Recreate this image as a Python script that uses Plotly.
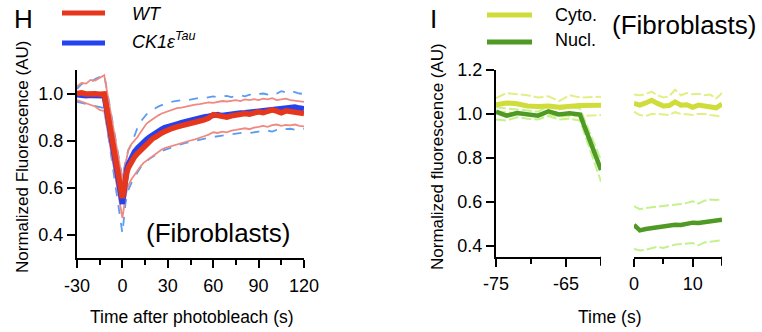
import plotly.graph_objects as go

# ---------------- Panel H data ----------------
T_H = [-30, -27, -24, -21, -18, -15, -12,
       0, 1, 2, 3, 4,
       6, 8, 10, 12, 14, 16, 18, 20, 22, 24, 26, 28, 30,
       33, 36, 39, 42, 45, 48, 51, 54, 57, 60, 63, 66, 69, 72, 75,
       78, 81, 84, 87, 90, 93, 96, 99, 102, 105, 108, 111, 114, 117, 120]

WT_MEAN = [1.000, 1.003, 0.998, 1.001, 0.999, 0.997, 0.998,
           0.555, 0.600, 0.635, 0.665, 0.685,
           0.710, 0.730, 0.745, 0.758, 0.772, 0.788, 0.798, 0.808, 0.815, 0.826, 0.832, 0.838, 0.845,
           0.852, 0.858, 0.862, 0.868, 0.872, 0.876, 0.883, 0.888, 0.895, 0.910, 0.905, 0.898, 0.899, 0.905, 0.908,
           0.910, 0.915, 0.912, 0.920, 0.922, 0.918, 0.926, 0.930, 0.925, 0.918, 0.926, 0.924, 0.920, 0.922, 0.915]

CK_MEAN = [0.995, 0.992, 0.990, 0.992, 0.990, 0.988, 0.990,
           0.530, 0.600, 0.645, 0.680, 0.700,
           0.730, 0.752, 0.768, 0.782, 0.795, 0.805, 0.815, 0.825, 0.832, 0.840, 0.848, 0.855, 0.860,
           0.865, 0.870, 0.876, 0.882, 0.886, 0.890, 0.895, 0.900, 0.903, 0.908, 0.910, 0.906, 0.910, 0.912, 0.915,
           0.917, 0.918, 0.920, 0.922, 0.925, 0.926, 0.928, 0.932, 0.930, 0.934, 0.936, 0.940, 0.942, 0.938, 0.935]

WT_HI = [1.030, 1.045, 1.042, 1.058, 1.055, 1.068, 1.078,
         0.630, 0.670, 0.700, 0.730, 0.760,
         0.785, 0.800, 0.815, 0.835, 0.855, 0.872, 0.882, 0.892, 0.900, 0.908, 0.915, 0.920, 0.926,
         0.932, 0.938, 0.940, 0.945, 0.948, 0.953, 0.955, 0.958, 0.962, 0.960, 0.965, 0.968, 0.966, 0.970, 0.972,
         0.968, 0.975, 0.972, 0.976, 0.972, 0.978, 0.975, 0.980, 0.972, 0.976, 0.978, 0.972, 0.970, 0.966, 0.964]

WT_LO = [0.972, 0.965, 0.958, 0.950, 0.945, 0.930, 0.925,
         0.470, 0.520, 0.560, 0.590, 0.610,
         0.635, 0.655, 0.675, 0.690, 0.705, 0.715, 0.725, 0.735, 0.745, 0.755, 0.762, 0.768, 0.772,
         0.778, 0.785, 0.790, 0.795, 0.800, 0.805, 0.810, 0.818, 0.825, 0.835, 0.832, 0.838, 0.835, 0.842, 0.845,
         0.848, 0.852, 0.848, 0.855, 0.858, 0.862, 0.858, 0.865, 0.868, 0.862, 0.866, 0.864, 0.868, 0.862, 0.860]

CK_HI = [1.020, 1.040, 1.050, 1.048, 1.062, 1.070, 1.080,
         0.640, 0.680, 0.710, 0.740, 0.760,
         0.785, 0.820, 0.855, 0.880, 0.895, 0.912, 0.920, 0.930, 0.938, 0.945, 0.950, 0.958, 0.962,
         0.965, 0.968, 0.972, 0.970, 0.975, 0.978, 0.982, 0.980, 0.985, 0.988, 0.984, 0.986, 0.990, 0.985, 0.990,
         0.992, 0.988, 0.995, 0.990, 0.998, 1.000, 0.996, 1.005, 1.000, 1.010, 1.004, 1.012, 1.005, 1.000, 0.998]

CK_LO = [0.965, 0.960, 0.955, 0.952, 0.945, 0.940, 0.938,
         0.405, 0.480, 0.530, 0.565, 0.590,
         0.620, 0.645, 0.665, 0.685, 0.700, 0.712, 0.722, 0.730, 0.738, 0.748, 0.755, 0.760, 0.765,
         0.772, 0.778, 0.785, 0.790, 0.795, 0.800, 0.805, 0.808, 0.812, 0.815, 0.818, 0.820, 0.822, 0.826, 0.828,
         0.830, 0.835, 0.832, 0.836, 0.838, 0.840, 0.842, 0.838, 0.845, 0.842, 0.848, 0.850, 0.846, 0.852, 0.850]

H_XTICKS = [-30, 0, 30, 60, 90, 120]
H_XLABELS = ["-30", "0", "30", "60", "90", "120"]
H_XMINOR = [-15, 15, 45, 75, 105]
H_YTICKS = [0.4, 0.6, 0.8, 1.0]

# ---------------- Panel I data ----------------
T_I_PRE = [-75, -73.5, -72, -70.5, -69, -67.5, -66, -64.5, -63, -60]
CYT_PRE = [1.042, 1.050, 1.046, 1.036, 1.034, 1.036, 1.030, 1.036, 1.038, 1.040]
CYT_PRE_HI = [1.072, 1.095, 1.090, 1.085, 1.075, 1.080, 1.058, 1.085, 1.075, 1.078]
CYT_PRE_LO = [1.005, 1.010, 1.000, 0.995, 0.990, 0.995, 0.988, 0.990, 0.990, 0.995]
NUC_PRE = [1.010, 0.992, 1.004, 0.998, 0.992, 1.012, 0.998, 1.003, 0.997, 0.745]
NUC_PRE_HI = [1.030, 1.025, 1.020, 1.015, 1.010, 1.035, 1.020, 1.030, 1.025, 0.790]
NUC_PRE_LO = [0.975, 0.970, 0.985, 0.978, 0.975, 0.990, 0.975, 0.978, 0.970, 0.692]

T_I_POST = [0, 1, 2, 3, 4, 5, 6, 7, 8, 9, 10, 11, 12, 13, 14, 15]
CYT_POST = [1.048, 1.040, 1.050, 1.062, 1.048, 1.036, 1.038, 1.055, 1.040, 1.042, 1.030, 1.040, 1.036, 1.030, 1.028, 1.045]
CYT_POST_HI = [1.088, 1.085, 1.090, 1.102, 1.085, 1.075, 1.080, 1.110, 1.085, 1.095, 1.090, 1.092, 1.085, 1.088, 1.070, 1.095]
CYT_POST_LO = [1.010, 0.995, 0.990, 1.000, 1.000, 0.998, 0.995, 1.008, 1.000, 0.998, 0.995, 1.000, 1.000, 0.995, 0.992, 0.988]
NUC_POST = [0.495, 0.470, 0.476, 0.480, 0.486, 0.488, 0.490, 0.495, 0.494, 0.500, 0.505, 0.503, 0.508, 0.512, 0.513, 0.518]
NUC_POST_HI = [0.580, 0.566, 0.572, 0.575, 0.578, 0.580, 0.582, 0.585, 0.590, 0.595, 0.602, 0.592, 0.605, 0.610, 0.608, 0.612]
NUC_POST_LO = [0.385, 0.378, 0.382, 0.388, 0.395, 0.390, 0.398, 0.405, 0.408, 0.410, 0.412, 0.402, 0.415, 0.418, 0.420, 0.425]

I_YTICKS = [0.4, 0.6, 0.8, 1.0, 1.2]
I_PRE_TICKS = [-75, -65]
I_PRE_LABELS = ["-75", "-65"]
I_PRE_MINOR = [-70]
I_PRE_END = -60
I_POST_TICKS = [0, 10]
I_POST_LABELS = ["0", "10"]
I_POST_MINOR = [5]
I_POST_END = 15

# ---------------- Styling ----------------
W, H = 762, 332
FONT = "Liberation Sans, Arial, Helvetica, sans-serif"
RED, BLUE = "#e6361c", "#2442ee"
PINK, LBLUE = "#ee8a82", "#5b9cf3"
CYT, CYT_L = "#cfdc3a", "#e3ef86"
NUC, NUC_L = "#4f9a24", "#c3f28c"


def px(x):
    return x / W


def py(y):
    return 1 - y / H


fig = go.Figure()

# Panel H traces
for ys, col, dash in [(CK_HI, LBLUE, "dash"), (CK_LO, LBLUE, "dash"),
                      (WT_HI, PINK, "solid"), (WT_LO, PINK, "solid")]:
    fig.add_trace(go.Scatter(x=T_H, y=ys, mode="lines", showlegend=False,
                             line=dict(color=col, width=1.8, dash=dash),
                             xaxis="x", yaxis="y", hoverinfo="skip"))
fig.add_trace(go.Scatter(x=T_H, y=CK_MEAN, mode="lines", name="CK1ε Tau", showlegend=False,
                         line=dict(color=BLUE, width=5.5), xaxis="x", yaxis="y"))
fig.add_trace(go.Scatter(x=T_H, y=WT_MEAN, mode="lines", name="WT", showlegend=False,
                         line=dict(color=RED, width=5.5), xaxis="x", yaxis="y"))

# Panel I traces
for xs, xa, series in [
    (T_I_PRE, "x2", [(CYT_PRE_HI, CYT_L), (CYT_PRE_LO, CYT_L), (NUC_PRE_HI, NUC_L), (NUC_PRE_LO, NUC_L)]),
    (T_I_POST, "x3", [(CYT_POST_HI, CYT_L), (CYT_POST_LO, CYT_L), (NUC_POST_HI, NUC_L), (NUC_POST_LO, NUC_L)]),
]:
    for ys, col in series:
        fig.add_trace(go.Scatter(x=xs, y=ys, mode="lines", showlegend=False,
                                 line=dict(color=col, width=2, dash="10px,3px"),
                                 xaxis=xa, yaxis="y2", hoverinfo="skip"))
for xs, xa, cy, nu in [(T_I_PRE, "x2", CYT_PRE, NUC_PRE), (T_I_POST, "x3", CYT_POST, NUC_POST)]:
    fig.add_trace(go.Scatter(x=xs, y=cy, mode="lines", name="Cyto.", showlegend=False,
                             line=dict(color=CYT, width=5), xaxis=xa, yaxis="y2"))
    fig.add_trace(go.Scatter(x=xs, y=nu, mode="lines", name="Nucl.", showlegend=False,
                             line=dict(color=NUC, width=4.5), xaxis=xa, yaxis="y2"))

axis_common = dict(showline=True, linecolor="black", linewidth=2, ticks="outside",
                   ticklen=8, tickwidth=2, tickcolor="black", showgrid=False, zeroline=False,
                   automargin=False,
                   tickfont=dict(family=FONT, size=18, color="black"))


def minor(vals):
    return dict(tickmode="array", tickvals=vals, ticks="outside", ticklen=5,
                tickwidth=2, tickcolor="black", showgrid=False)


I_AXIS_Y = 256.7
fig.update_layout(
    width=W, height=H, margin=dict(l=0, r=0, t=0, b=0, autoexpand=False),
    paper_bgcolor="white", plot_bgcolor="white", showlegend=False,
    font=dict(family=FONT, color="black"),
    xaxis=dict(axis_common, domain=[px(77), px(304)], range=[-30, 120], anchor="y",
               tickmode="array", tickvals=H_XTICKS, ticktext=H_XLABELS, ticklabelstandoff=2,
               minor=minor(H_XMINOR)),
    yaxis=dict(axis_common, domain=[py(258), py(70)], range=[0.3, 1.1], anchor="x",
               tickmode="array", tickvals=H_YTICKS, tickformat=".1f"),
    xaxis2=dict(axis_common, domain=[px(496), px(601)], range=[-75, -60], anchor="y2",
                tickmode="array", tickvals=I_PRE_TICKS, ticktext=I_PRE_LABELS, ticklabelstandoff=2,
                minor=minor(I_PRE_MINOR)),
    xaxis3=dict(axis_common, domain=[px(634), px(722)], range=[0, 15], anchor="y2",
                tickmode="array", tickvals=I_POST_TICKS, ticktext=I_POST_LABELS, ticklabelstandoff=2,
                minor=minor(I_POST_MINOR)),
    yaxis2=dict(axis_common, domain=[py(I_AXIS_Y), py(70)], range=[0.35, 1.2], anchor="x2",
                tickmode="array", tickvals=I_YTICKS, tickformat=".1f"),
)

ann = []


def text(x, y, s, size=18, xanchor="center", angle=0):
    ann.append(dict(x=px(x), y=py(y), xref="paper", yref="paper", text=s, showarrow=False,
                    xanchor=xanchor, yanchor="middle", textangle=angle,
                    font=dict(family=FONT, size=size, color="black")))


text(12, 19, "H", size=26, xanchor="left")
text(428, 19, "I", size=26, xanchor="left")
text(130, 14, "<i>WT</i>", xanchor="left")
text(130, 41, "<i>CK1ε<sup>Tau</sup></i>", xanchor="left")
text(553, 15, "Cyto.", xanchor="left")
text(553, 40, "Nucl.", xanchor="left")
text(217.5, 233, "(Fibroblasts)", size=26)
text(683.5, 25, "(Fibroblasts)", size=26)
text(192, 317, "Time after photobleach (s)", size=17.5)
text(610, 317, "Time (s)", size=17.5)
text(22, 157, "Normalized Fluorescence (AU)", size=17, angle=-90)
text(437, 157, "Normalized fluorescence (AU)", size=17, angle=-90)
fig.update_layout(annotations=ann)

shapes = []
# legend swatches
for (x0, x1, y, col) in [(62, 105, 13, RED), (62, 105, 43, BLUE), (487, 532, 15, CYT), (487, 532, 42, NUC)]:
    shapes.append(dict(type="line", xref="paper", yref="paper", x0=px(x0), x1=px(x1),
                       y0=py(y), y1=py(y), line=dict(color=col, width=5)))
# unlabeled end ticks of the two broken-axis segments
for xr, xv in [("x2", I_PRE_END), ("x3", I_POST_END)]:
    shapes.append(dict(type="line", xref=xr, yref="paper", x0=xv, x1=xv,
                       y0=py(I_AXIS_Y), y1=py(I_AXIS_Y + 9), line=dict(color="black", width=2)))
fig.update_layout(shapes=shapes)

fig.write_html("out.html", config={"displayModeBar": False, "staticPlot": True},
               post_script="document.body.style.margin='0';document.body.style.padding='0';"
                           "document.body.style.overflow='hidden';")
